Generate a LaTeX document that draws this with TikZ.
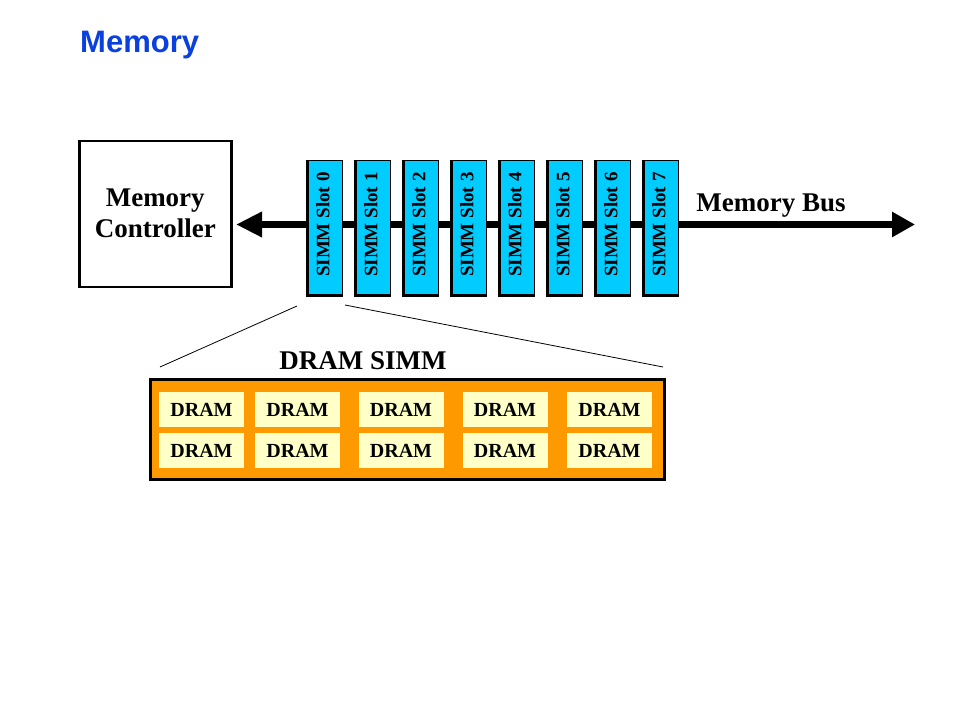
\documentclass[tikz,border=0pt]{standalone}
\usepackage{fontspec}
\setmainfont{Liberation Serif}
\newfontfamily\arialfont{Liberation Sans}
\usetikzlibrary{arrows.meta}
\definecolor{slotcyan}{HTML}{00CCFF}
\definecolor{simmorange}{HTML}{FF9900}
\definecolor{dramyellow}{HTML}{FFFFC8}
\definecolor{titleblue}{HTML}{0A3FE0}
\tikzset{
  slotbox/.style={fill=black, minimum width=37pt, minimum height=137pt, inner sep=0pt, anchor=north west,
    path picture={\fill[slotcyan] ([xshift=3pt,yshift=3pt]path picture bounding box.south west) rectangle ([xshift=-1pt,yshift=-1pt]path picture bounding box.north east);},
    font=\fontsize{19}{20}\selectfont\bfseries},
  drambox/.style={fill=dramyellow, minimum width=85pt, minimum height=35pt, inner sep=0pt, font=\fontsize{20}{21}\selectfont\bfseries},
  bus/.style={line width=7pt, {Triangle[length=26pt,width=24pt]}-{Triangle[length=23pt,width=24pt]}},
  zoomline/.style={line width=0.8pt},
  lbl/.style={font=\fontsize{27}{30}\selectfont\bfseries, inner sep=0pt}
}
\begin{document}
\begin{tikzpicture}[x=1pt,y=-1pt]
\useasboundingbox[fill=white] (0,0) rectangle (960,720);
\node[font=\arialfont\fontsize{31}{33}\selectfont\bfseries, text=titleblue, anchor=base west, inner sep=0pt] (title) at (80,52) {Memory};
\node[draw, line width=2.5pt, minimum width=152pt, minimum height=146pt, anchor=north west, align=center, font=\fontsize{27}{32}\selectfont\bfseries] (mc) at (78,139.5) {Memory\\[-1pt]Controller};
\coordinate (busL) at (236,224.5);
\coordinate (busR) at (915,224.5);
\draw[bus] (busL) -- (busR);
\foreach \i in {0,...,7} {
  \node[slotbox] (s\i) at ({306+48*\i},160) {\rotatebox{90}{\raisebox{4pt}{\hspace*{8pt}SIMM Slot \i}}};
}
\node[lbl] (busl) at (771,206) {Memory Bus};
\node[draw, line width=3pt, fill=simmorange, minimum width=514pt, minimum height=100pt, anchor=north west, inner sep=0pt] (simm) at (148.5,378) {};
\node[lbl] (simml) at (363,361) {DRAM SIMM};
\coordinate (zl0) at (297,306);
\coordinate (zl1) at (160,367);
\coordinate (zr0) at (345,305);
\coordinate (zr1) at (663,367);
\draw[zoomline] (zl0) -- (zl1);
\draw[zoomline] (zr0) -- (zr1);
\foreach \x [count=\c] in {201.5,297.5,401,505,609.5} {
  \node[drambox] (d1\c) at (\x,409.5) {DRAM};
  \node[drambox] (d2\c) at (\x,450.5) {DRAM};
}
\end{tikzpicture}
\end{document}
